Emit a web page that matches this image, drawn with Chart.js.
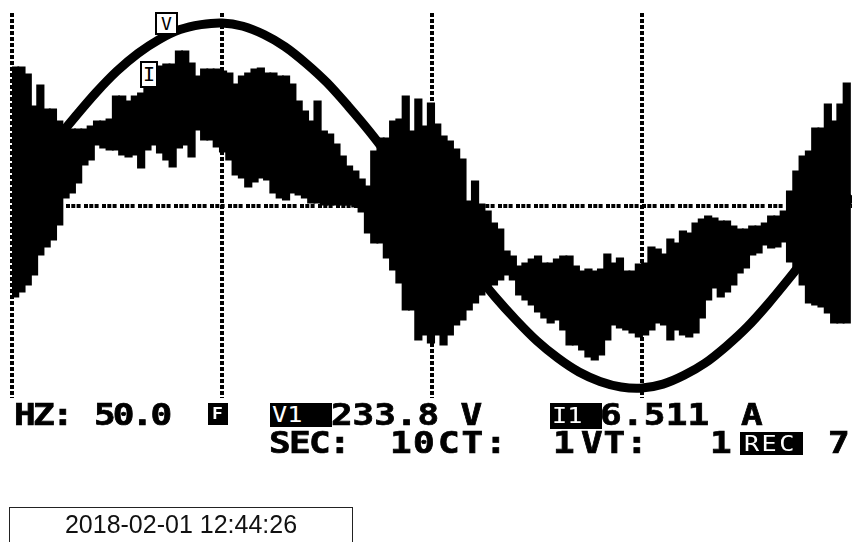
<!DOCTYPE html>
<html>
<head>
<meta charset="utf-8">
<script src="https://cdn.jsdelivr.net/npm/chart.js@4.4.1/dist/chart.umd.min.js"></script>
<style>
  html, body { margin: 0; padding: 0; background: #fff; }
  #wrap { position: relative; width: 852px; height: 542px; overflow: hidden; background: #fff; }
  #scope { position: absolute; left: 0; top: 0; }
  .lcd {
    position: absolute; font-family: "DejaVu Sans Mono", monospace; font-weight: bold;
    font-size: 30px; line-height: 30px; color: #000; white-space: pre;
    transform-origin: 0 0; -webkit-text-stroke: 0.7px #000;
  }
  .inv { position: absolute; background: #000; overflow: hidden; }
  .inv span {
    position: absolute; color: #fff; font-family: "DejaVu Sans Mono", monospace;
    white-space: pre; transform-origin: 0 0;
  }
  .tag {
    position: absolute; box-sizing: border-box; background: #fff; border: 2px solid #000;
    font-family: "DejaVu Sans Mono", monospace; color: #000; text-align: center;
  }
  #stamp {
    position: absolute; left: 9px; top: 507px; width: 344px; height: 60px; box-sizing: border-box;
    border: 1.5px solid #222; font-family: "Liberation Sans", Arial, sans-serif; font-size: 25px;
    line-height: 25px; color: #111; text-align: center; padding-top: 3.5px;
  }
</style>
</head>
<body>
<div id="wrap">
  <canvas id="scope" width="852" height="542"></canvas>
  <div id="stamp">2018-02-01 12:44:26</div>
</div>
<script>
// One mains cycle (20 ms) of voltage and current as captured by the analyser.
// Voltage samples every 0.5 ms, in volts.
const VOLTAGE_STEP_MS = 0.5;
const voltage = [
  18, 66, 114, 160, 204, 243, 275, 300, 318, 327,
  330, 324, 309, 287, 257, 222, 180, 135, 86, 35,
  -17, -68, -118, -165, -207, -245, -276, -301, -318, -328,
  -330, -323, -307, -285, -255, -220, -178, -132, -84, -33,
  18
];

// Current trace: min/max envelope per 0.15 ms column, in amperes.
const CURRENT_STEP_MS = 0.15;
const CURRENT_START_MS = 0.075;
const currentHigh = [
  13.9, 13.9, 13.2, 10.0, 12.1, 9.7, 9.7, 8.5, 8.0, 7.7,
  7.7, 7.7, 8.0, 8.5, 8.5, 8.7, 11.0, 11.0, 10.5, 11.0,
  11.3, 12.0, 12.5, 14.0, 14.2, 14.2, 15.5, 15.5, 14.3, 13.0,
  13.7, 13.7, 13.7, 13.5, 13.3, 12.2, 13.0, 13.3, 13.7, 13.8,
  13.3, 13.3, 13.0, 13.0, 12.2, 10.5, 9.5, 8.5, 10.5, 7.5,
  7.2, 6.2, 5.0, 4.0, 3.5, 2.7, 2.0, 5.5, 6.8, 6.8,
  8.5, 8.7, 11.0, 7.5, 10.7, 8.0, 10.3, 8.2, 7.0, 6.5,
  5.7, 4.7, 0.5, 2.5, 0.2, -0.5, -1.7, -2.3, -4.5, -5.0,
  -6.0, -5.7, -5.3, -5.0, -5.7, -5.7, -5.3, -5.0, -5.0, -6.0,
  -6.5, -6.3, -6.5, -6.3, -4.8, -5.7, -5.2, -6.5, -6.5, -5.8,
  -5.7, -4.1, -4.3, -4.8, -3.3, -3.7, -2.5, -2.7, -1.7, -1.3,
  -1.0, -1.2, -1.5, -1.5, -2.0, -2.3, -2.3, -2.0, -2.0, -1.7,
  -1.0, -1.0, -0.5, 1.5, 3.5, 5.0, 5.5, 7.8, 7.8, 10.2,
  8.5, 10.2, 12.3
];
const currentLow = [
  -9.2, -8.7, -8.0, -7.0, -5.0, -4.2, -3.5, -2.0, 0.7, 1.2,
  2.2, 4.0, 4.5, 6.0, 5.7, 5.5, 5.5, 5.0, 4.8, 5.0,
  3.7, 5.5, 6.0, 5.2, 4.5, 3.8, 5.7, 6.0, 4.8, 7.5,
  6.5, 6.5, 5.8, 5.3, 4.5, 3.0, 2.7, 1.8, 2.3, 2.7,
  2.5, 1.2, 0.7, 0.5, 1.2, 1.0, 0.7, 0.2, 0.2, 0.0,
  0.0, 0.0, 0.0, 0.0, -0.2, -0.7, -2.8, -3.8, -3.8, -5.3,
  -6.5, -7.8, -10.5, -10.5, -13.5, -13.0, -13.8, -13.0, -14.0, -13.0,
  -12.0, -11.5, -10.5, -9.8, -9.0, -8.2, -8.0, -7.5, -7.0, -7.5,
  -9.0, -9.5, -10.0, -10.7, -11.3, -11.8, -11.5, -12.5, -14.0, -14.0,
  -14.5, -15.2, -15.5, -15.0, -13.5, -12.0, -12.3, -12.5, -12.8, -13.2,
  -13.0, -12.5, -11.8, -12.0, -13.5, -12.5, -13.0, -13.2, -12.8, -11.3,
  -9.5, -8.3, -9.2, -8.7, -8.0, -6.8, -6.3, -5.0, -4.8, -4.0,
  -4.3, -4.2, -3.7, -5.7, -6.3, -8.0, -9.8, -10.0, -10.2, -10.8,
  -11.8, -11.8, -11.8
];

// Time divisions (ms) marked by the dotted graticule.
const timeDivisions = [0, 5, 10, 15];

// Status line readouts.
const statusRow1 = [
  // text, left x, advance per character
  ['HZ:', 13.7, 19],
  ['50.0', 94.2, 18.8],
  ['233.8 V', 330.7, 21.6],
  ['6.511', 600.2, 21.9],
  ['A', 740.7, 21.7]
];
const statusRow2 = [
  ['SEC:', 268.7, 20],
  ['10', 390.2, 23],
  ['CT:', 437.7, 23.5],
  ['1', 553.2, 21.7],
  ['VT:', 580.7, 22.5],
  ['1', 710.2, 21.7],
  ['7', 827.7, 21.7]
];

const voltagePoints = voltage.map((v, i) => ({ x: i * VOLTAGE_STEP_MS, y: v }));
const currentBars = currentHigh.map((hi, i) => ({
  x: CURRENT_START_MS + i * CURRENT_STEP_MS,
  y: [currentLow[i], hi]
}));

new Chart(document.getElementById('scope'), {
  type: 'bar',
  data: {
    datasets: [
      {
        type: 'line',
        label: 'V1',
        data: voltagePoints,
        yAxisID: 'yV',
        borderColor: '#000',
        borderWidth: 9,
        pointRadius: 0,
        tension: 0.3,
        fill: false
      },
      {
        type: 'bar',
        label: 'I1',
        data: currentBars,
        yAxisID: 'yI',
        backgroundColor: '#000',
        borderWidth: 0,
        inflateAmount: 0,
        barPercentage: 1.3,
        categoryPercentage: 1,
        grouped: false
      }
    ]
  },
  options: {
    responsive: false,
    animation: false,
    devicePixelRatio: 1,
    layout: { padding: { left: 12, top: 13, right: 0, bottom: 144 } },
    plugins: { legend: { display: false }, tooltip: { enabled: false } },
    scales: {
      x: {
        type: 'linear', min: 0, max: 20, offset: false,
        afterBuildTicks: s => { s.ticks = timeDivisions.map(v => ({ value: v })); },
        ticks: { display: false },
        grid: { color: '#000', lineWidth: 4, drawTicks: false, offset: false },
        border: { display: false, dash: [4, 2] }
      },
      yV: {
        position: 'left', min: -348, max: 348,
        afterBuildTicks: s => { s.ticks = [{ value: 0 }]; },
        ticks: { display: false },
        grid: { color: '#000', lineWidth: 4, drawTicks: false },
        border: { display: false, dash: [4, 1.3, 4, 1.3, 4, 3.4] }
      },
      yI: { display: false, min: -19.25, max: 19.25 }
    }
  }
});

const wrap = document.getElementById('wrap');

function lcdText(text, left, top, adv) {
  const el = document.createElement('span');
  el.className = 'lcd';
  el.textContent = text;
  el.style.left = left + 'px';
  el.style.top = top + 'px';
  el.style.letterSpacing = (adv / 1.2 - 18.06).toFixed(2) + 'px';
  el.style.transform = 'scaleX(1.2)';
  wrap.appendChild(el);
}
statusRow1.forEach(([t, x, a]) => lcdText(t, x, 399.5, a));
statusRow2.forEach(([t, x, a]) => lcdText(t, x, 427.5, a));

// Inverted (white on black) indicator boxes.
function invBox(text, x, y, w, h, size, tx, ty, weight, spacing) {
  const b = document.createElement('div');
  b.className = 'inv';
  Object.assign(b.style, { left: x + 'px', top: y + 'px', width: w + 'px', height: h + 'px' });
  const s = document.createElement('span');
  s.textContent = text;
  Object.assign(s.style, {
    left: tx + 'px', top: ty + 'px', fontSize: size + 'px', lineHeight: size + 'px',
    fontWeight: weight, letterSpacing: spacing + 'px', transform: 'scaleX(1.2)'
  });
  b.appendChild(s);
  wrap.appendChild(b);
}
invBox('F', 208, 403, 20, 22, 15, 4, 4, 'bold', 0);
invBox('V1', 270, 403, 62, 24, 21, 2, 2, 'normal', 0);
invBox('I1', 550, 403, 52, 26, 21, 2, 3, 'normal', 0);
invBox('REC', 740, 432, 63, 23, 21, 4, 2, 'normal', 2);

// Channel markers on the traces.
function tag(text, x, y, w, h, size) {
  const t = document.createElement('div');
  t.className = 'tag';
  t.textContent = text;
  Object.assign(t.style, {
    left: x + 'px', top: y + 'px', width: w + 'px', height: h + 'px',
    fontSize: size + 'px', lineHeight: (h - 4) + 'px'
  });
  wrap.appendChild(t);
}
tag('V', 155, 12, 23, 23, 18);
tag('I', 140, 61, 18, 27, 20);
</script>
</body>
</html>
